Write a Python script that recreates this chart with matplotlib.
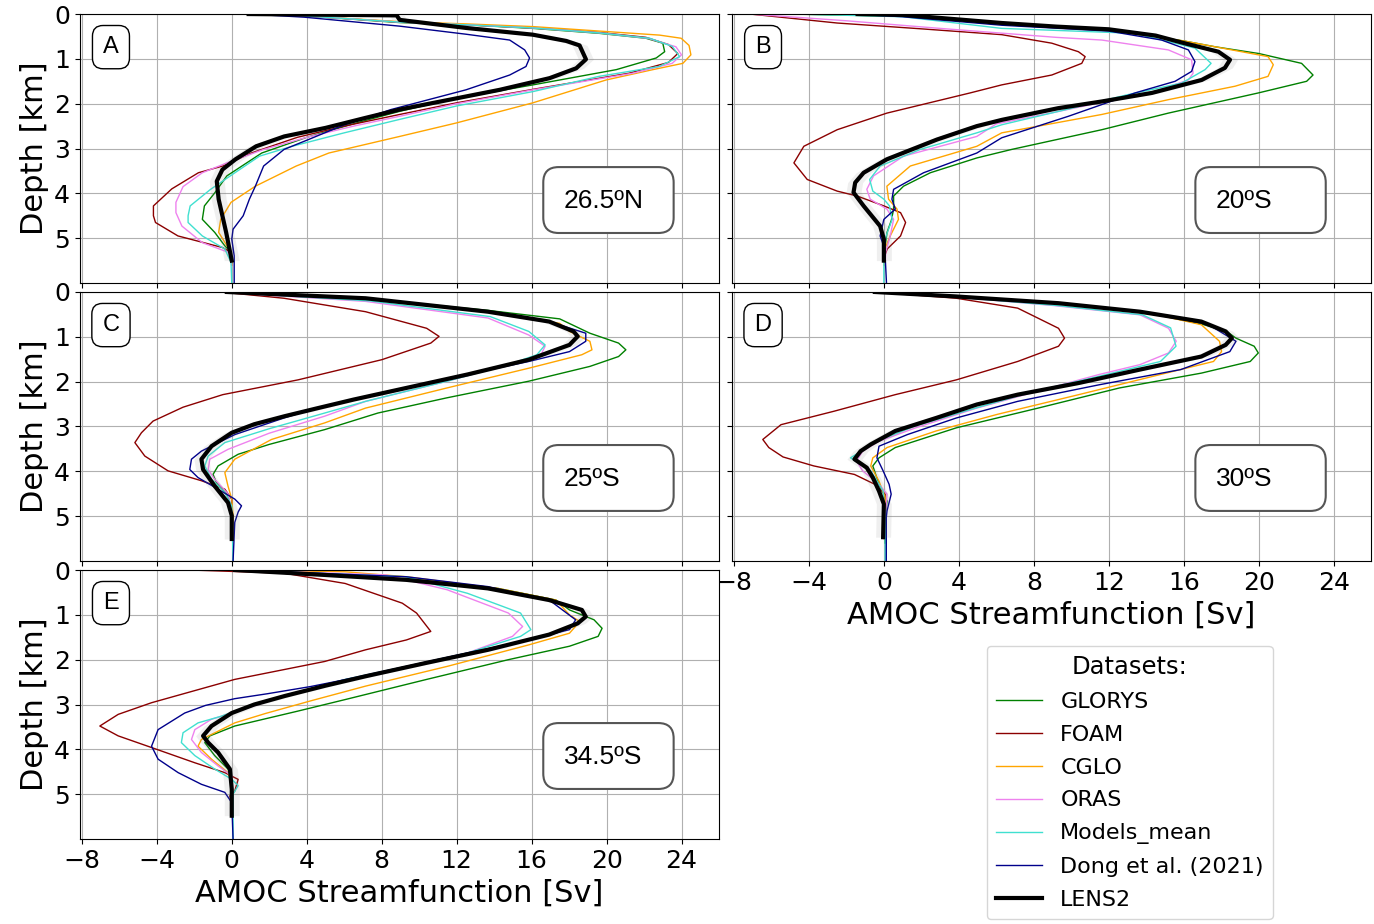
import matplotlib
matplotlib.use("Agg")
import matplotlib.pyplot as plt
import numpy as np
from matplotlib.patches import FancyBboxPatch

# AMOC streamfunction profiles: (Sv, depth km) pairs for each dataset
datasets = ["GLORYS", "FOAM", "CGLO", "ORAS", "Models_mean", "Dong et al. (2021)", "LENS2"]
colors = ["green", "darkred", "orange", "violet", "turquoise", "darkblue", "black"]
panel_letters = ["A", "B", "C", "D", "E"]
latitudes = ["26.5ºN", "20ºS", "25ºS", "30ºS", "34.5ºS"]
lens2_spread = 0.4  # half-width of the LENS2 ensemble envelope [Sv]

panel_a = {
    "GLORYS": [(1.0, 0), (3.5, 0.03), (8.96, 0.19), (12.5, 0.24), (16.07, 0.32), (19.6, 0.43), (22.1, 0.54),
               (23.0, 0.65), (23.1, 0.84), (22.65, 0.98), (20.52, 1.24), (16.07, 1.58), (11.63, 1.91),
               (8.96, 2.17), (6.9, 2.4), (4.0, 2.75), (1.6, 3.1), (-0.26, 3.61), (-0.91, 3.99), (-1.46, 4.28),
               (-1.57, 4.58), (-0.91, 4.87), (-0.37, 5.17), (-0.04, 5.32), (0.0, 5.6)],
    "FOAM": [(1.0, 0), (3.5, 0.03), (8.96, 0.18), (12.5, 0.24), (16.07, 0.31), (19.6, 0.41), (22.1, 0.52),
             (23.3, 0.68), (23.8, 0.88), (23.3, 1.08), (21.2, 1.32), (16.07, 1.68), (12.0, 1.98), (8.96, 2.24),
             (6.0, 2.5), (3.5, 2.75), (1.04, 3.1), (-0.48, 3.39), (-1.78, 3.54), (-3.2, 3.9), (-4.18, 4.28),
             (-4.18, 4.5), (-4.07, 4.65), (-2.87, 4.95), (-0.48, 5.21), (-0.04, 5.32), (0.0, 5.5)],
    "CGLO": [(1.0, 0), (3.5, 0.03), (8.96, 0.17), (12.52, 0.22), (16.07, 0.28), (19.98, 0.39), (22.83, 0.47),
             (23.98, 0.54), (24.4, 0.7), (24.5, 0.91), (24.07, 1.1), (22.47, 1.24), (19.98, 1.47), (16.07, 1.98),
             (11.98, 2.43), (8.96, 2.73), (5.18, 3.1), (3.44, 3.39), (1.26, 3.84), (-0.04, 4.2), (-0.59, 4.58),
             (-0.7, 4.87), (-0.15, 5.24), (-0.04, 5.32), (0.0, 5.6)],
    "ORAS": [(1.0, 0), (3.5, 0.03), (8.96, 0.18), (12.5, 0.24), (16.07, 0.31), (19.6, 0.42), (22.2, 0.54),
             (23.7, 0.73), (24.0, 0.91), (23.5, 1.1), (21.4, 1.32), (16.07, 1.69), (12.0, 2.0), (8.96, 2.28),
             (6.5, 2.5), (4.0, 2.75), (1.7, 3.02), (-0.26, 3.32), (-1.57, 3.54), (-2.6, 3.85), (-2.98, 4.2),
             (-2.98, 4.43), (-2.66, 4.73), (-1.57, 5.1), (-0.15, 5.32), (0.0, 5.6)],
    "Models_mean": [(1.0, 0), (3.5, 0.03), (8.96, 0.18), (12.5, 0.24), (16.07, 0.31), (19.6, 0.42), (22.3, 0.54),
                    (23.5, 0.72), (23.9, 0.95), (22.8, 1.17), (19.6, 1.39), (16.07, 1.73), (12.0, 2.05),
                    (8.96, 2.35), (6.0, 2.65), (3.22, 2.95), (1.48, 3.17), (0.17, 3.54), (-1.13, 3.91),
                    (-2.22, 4.28), (-2.33, 4.5), (-2.33, 4.65), (-1.57, 4.95), (-0.37, 5.24), (-0.04, 5.54),
                    (0.0, 6.0)],
    "Dong et al. (2021)": [(0.94, 0), (3.87, 0.07), (8.96, 0.27), (12.5, 0.45), (14.83, 0.58), (15.63, 0.8),
                           (15.89, 0.98), (15.7, 1.17), (14.83, 1.36), (12.5, 1.69), (8.5, 2.13), (5.83, 2.5),
                           (4.09, 2.8), (2.79, 3.02), (1.7, 3.39), (1.26, 3.84), (0.94, 4.13), (0.61, 4.5),
                           (0.07, 4.8), (0.0, 5.02), (0.13, 5.39), (0.13, 6.0)],
    "LENS2": [(0.9, 0), (8.8, 0.03), (8.96, 0.13), (12.5, 0.31), (16.06, 0.46), (17.85, 0.6), (18.56, 0.7),
              (18.9, 1.01), (18.38, 1.21), (16.96, 1.43), (14.3, 1.69), (11.63, 1.91), (8.96, 2.13), (7.1, 2.32),
              (5.0, 2.54), (2.8, 2.73), (1.3, 2.95), (0.2, 3.24), (-0.5, 3.47), (-0.8, 3.73), (-0.7, 4.13),
              (-0.5, 4.5), (-0.3, 4.87), (0.0, 5.5)],
}

panel_b = {
    "GLORYS": [(-5.0, 0), (1.0, 0.05), (6.3, 0.2), (12.0, 0.36), (16.0, 0.6), (17.67, 0.73), (20.0, 0.88),
               (22.29, 1.1), (22.9, 1.36), (22.56, 1.5), (19.98, 1.76), (15.18, 2.21), (11.63, 2.58),
               (6.82, 3.02), (4.96, 3.21), (2.48, 3.54), (1.05, 3.84), (0.52, 4.06), (0.52, 4.35), (0.4, 4.6),
               (0.17, 4.87), (0.05, 5.24), (0.05, 5.6)],
    "FOAM": [(-7.13, 0), (-2.5, 0.2), (2.0, 0.33), (6.29, 0.46), (8.96, 0.65), (10.38, 0.84), (10.74, 0.95),
             (10.56, 1.1), (8.96, 1.36), (6.29, 1.58), (4.6, 1.76), (0.16, 2.21), (-2.49, 2.58), (-4.27, 2.95),
             (-4.8, 3.32), (-4.09, 3.69), (-2.49, 3.95), (-1.42, 4.06), (0.0, 4.28), (0.89, 4.43), (1.16, 4.65),
             (0.89, 4.95), (0.18, 5.24), (0.05, 5.39)],
    "CGLO": [(-3.4, 0), (1.0, 0.05), (6.3, 0.2), (12.0, 0.36), (16.0, 0.6), (17.67, 0.73), (20.5, 0.95),
             (20.78, 1.13), (20.5, 1.39), (18.74, 1.61), (15.18, 1.91), (11.63, 2.24), (6.29, 2.65), (4.96, 2.95),
             (1.41, 3.39), (0.16, 3.84), (0.25, 4.13), (0.7, 4.35), (0.78, 4.58), (0.34, 4.95), (0.05, 5.24),
             (0.0, 5.6)],
    "ORAS": [(-7.13, 0), (-2.0, 0.15), (3.0, 0.32), (9.2, 0.52), (11.63, 0.58), (15.18, 0.8), (16.42, 1.02),
             (16.5, 1.32), (16.25, 1.47), (14.5, 1.72), (11.63, 1.97), (9.0, 2.2), (6.0, 2.45), (4.96, 2.73),
             (1.05, 3.17), (-0.55, 3.61), (-0.91, 3.91), (-0.73, 4.13), (0.16, 4.35), (0.52, 4.58), (0.34, 4.95),
             (0.1, 5.3), (0.07, 5.6)],
    "Models_mean": [(-4.6, 0), (1.0, 0.06), (6.29, 0.32), (13.4, 0.43), (16.6, 0.76), (17.46, 1.1), (17.14, 1.24),
                    (15.89, 1.54), (13.0, 1.8), (9.23, 2.18), (6.29, 2.47), (4.96, 2.65), (1.94, 3.02),
                    (-0.2, 3.39), (-0.76, 3.69), (-0.59, 3.95), (0.0, 4.13), (0.3, 4.28), (0.44, 4.58),
                    (0.12, 4.95), (0.0, 5.24), (0.0, 6.0)],
    "Dong et al. (2021)": [(-1.8, 0), (1.0, 0.06), (6.3, 0.25), (12.0, 0.38), (14.82, 0.58), (16.25, 0.8),
                           (16.6, 1.06), (16.42, 1.28), (15.54, 1.5), (13.4, 1.76), (9.85, 2.28), (6.29, 2.76),
                           (4.96, 3.1), (2.12, 3.54), (0.52, 3.91), (0.43, 4.13), (0.61, 4.35), (0.0, 4.58),
                           (-0.2, 4.95), (0.05, 5.24), (0.14, 6.0)],
    "LENS2": [(-1.4, 0), (1.05, 0.02), (6.3, 0.2), (9.2, 0.28), (12.0, 0.34), (14.5, 0.48), (16.03, 0.65),
              (17.85, 0.84), (18.47, 1.02), (18.2, 1.2), (16.96, 1.47), (14.3, 1.76), (11.63, 1.95), (9.3, 2.1),
              (6.3, 2.36), (4.96, 2.5), (2.83, 2.8), (0.16, 3.24), (-1.08, 3.54), (-1.53, 3.76), (-1.62, 3.98),
              (-1.08, 4.28), (-0.2, 4.73), (0.0, 5.02), (0.0, 5.5)],
}

panel_c = {
    "GLORYS": [(-0.3, 0), (7.0, 0.14), (13.67, 0.41), (17.5, 0.6), (19.11, 0.92), (20.64, 1.14), (21.03, 1.29),
               (20.64, 1.44), (19.11, 1.66), (15.85, 1.99), (11.49, 2.36), (7.8, 2.7), (4.96, 3.07), (2.0, 3.4),
               (0.34, 3.62), (-0.73, 3.88), (-1.0, 4.07), (-0.82, 4.25), (-0.2, 4.55), (0.0, 4.92), (0.0, 5.5)],
    "FOAM": [(-0.6, 0), (2.79, 0.14), (7.14, 0.44), (10.4, 0.81), (11.06, 0.99), (10.62, 1.14), (8.01, 1.51),
             (3.54, 1.96), (-0.48, 2.29), (-2.6, 2.57), (-4.2, 2.88), (-4.82, 3.14), (-5.17, 3.36),
             (-4.64, 3.66), (-3.4, 3.99), (-1.62, 4.21), (-0.37, 4.4), (0.0, 4.62), (0.0, 5.3)],
    "CGLO": [(-0.3, 0), (7.2, 0.14), (13.8, 0.44), (17.5, 0.7), (18.02, 0.88), (19.11, 1.1), (19.22, 1.29),
             (18.68, 1.4), (15.85, 1.7), (11.49, 2.14), (7.14, 2.59), (4.96, 2.92), (2.12, 3.29), (0.16, 3.73),
             (-0.37, 4.03), (-0.2, 4.33), (0.0, 4.62), (0.07, 5.0), (0.0, 5.5)],
    "ORAS": [(-0.59, 0), (7.14, 0.21), (13.67, 0.58), (15.85, 0.96), (16.72, 1.21), (16.5, 1.4), (14.76, 1.62),
             (11.49, 1.99), (7.14, 2.44), (4.96, 2.77), (2.0, 3.15), (-0.2, 3.51), (-1.17, 3.73), (-1.26, 3.96),
             (-0.91, 4.18), (-0.2, 4.5), (0.0, 4.88), (0.0, 5.5)],
    "Models_mean": [(-0.5, 0), (7.4, 0.2), (13.8, 0.55), (15.85, 0.88), (16.72, 1.18), (16.28, 1.4),
                    (14.76, 1.62), (11.49, 1.99), (7.14, 2.44), (4.96, 2.7), (2.0, 3.05), (-0.37, 3.36),
                    (-1.26, 3.66), (-1.44, 3.88), (-1.08, 4.18), (-0.37, 4.47), (0.0, 4.77), (0.07, 6.0)],
    "Dong et al. (2021)": [(-0.3, 0), (7.14, 0.14), (13.67, 0.44), (16.94, 0.66), (18.89, 0.92), (18.89, 1.1),
                           (18.02, 1.33), (15.85, 1.55), (12.58, 1.84), (9.32, 2.14), (6.3, 2.42), (4.3, 2.62),
                           (2.79, 2.81), (0.17, 3.18), (-1.0, 3.42), (-1.62, 3.55), (-2.15, 3.73), (-2.24, 3.96),
                           (-1.8, 4.14), (-0.73, 4.4), (0.16, 4.62), (0.52, 4.77), (0.34, 4.91), (0.16, 5.14),
                           (0.07, 6.0)],
    "LENS2": [(-0.26, 0), (7.14, 0.14), (13.67, 0.44), (16.94, 0.66), (18.24, 0.88), (18.46, 0.99),
              (18.02, 1.18), (15.85, 1.51), (12.58, 1.84), (9.32, 2.14), (6.5, 2.4), (4.5, 2.6), (2.83, 2.77),
              (1.2, 2.95), (0.0, 3.14), (-1.08, 3.44), (-1.62, 3.73), (-1.53, 3.96), (-0.91, 4.33), (-0.2, 4.7),
              (0.0, 4.99), (0.0, 5.51)],
}

panel_d = {
    "GLORYS": [(-0.5, 0), (4.0, 0.1), (10.0, 0.27), (14.5, 0.5), (17.0, 0.72), (18.3, 0.88), (18.79, 1.03),
               (19.76, 1.21), (19.98, 1.36), (19.55, 1.55), (16.94, 1.81), (12.58, 2.14), (8.23, 2.59),
               (3.87, 3.03), (0.61, 3.47), (-0.26, 3.7), (-0.59, 3.88), (-0.26, 4.29), (0.17, 4.66),
               (0.07, 5.03), (0.07, 5.6)],
    "FOAM": [(-0.48, 0), (3.87, 0.14), (7.14, 0.36), (9.32, 0.81), (9.64, 1.03), (9.32, 1.21), (7.14, 1.55),
             (3.87, 1.96), (0.61, 2.29), (-2.66, 2.66), (-5.49, 2.96), (-6.46, 3.29), (-6.14, 3.47),
             (-5.38, 3.68), (-3.74, 3.88), (-1.57, 4.07), (-0.48, 4.29), (0.07, 4.51), (0.0, 5.03), (0.0, 5.2)],
    "CGLO": [(-0.5, 0), (4.0, 0.1), (10.0, 0.27), (14.5, 0.5), (16.94, 0.73), (17.91, 1.1), (18.02, 1.33),
             (17.59, 1.55), (14.76, 1.84), (10.4, 2.29), (6.05, 2.73), (2.79, 3.1), (0.17, 3.47), (-0.59, 3.7),
             (-0.7, 3.88), (-0.26, 4.22), (0.07, 4.58), (0.07, 5.03), (0.0, 5.5)],
    "ORAS": [(-0.5, 0), (3.5, 0.1), (9.0, 0.3), (13.67, 0.51), (15.19, 0.81), (15.6, 1.1), (15.19, 1.36),
             (13.67, 1.62), (11.49, 1.84), (8.23, 2.21), (4.96, 2.59), (1.7, 3.03), (-0.26, 3.33), (-1.13, 3.55),
             (-1.46, 3.77), (-1.13, 3.99), (-0.26, 4.29), (0.17, 4.51), (0.07, 5.03), (0.0, 5.5)],
    "Models_mean": [(-0.5, 0), (3.5, 0.1), (9.2, 0.3), (13.8, 0.51), (15.3, 0.8), (15.59, 1.21), (14.76, 1.55),
                    (11.49, 1.88), (8.0, 2.22), (4.8, 2.6), (1.6, 3.0), (-0.5, 3.35), (-1.4, 3.6), (-1.78, 3.7),
                    (-0.7, 3.99), (-0.04, 4.44), (0.07, 5.03), (0.07, 6.0)],
    "Dong et al. (2021)": [(-0.5, 0), (4.0, 0.1), (10.0, 0.27), (14.5, 0.5), (17.3, 0.72), (18.79, 1.1),
                           (18.46, 1.33), (15.85, 1.73), (11.49, 2.07), (7.14, 2.44), (3.87, 2.81), (1.26, 3.18),
                           (-0.26, 3.44), (-0.37, 3.7), (-0.04, 3.99), (0.28, 4.29), (0.39, 4.51), (0.17, 4.88),
                           (0.13, 5.03), (0.13, 6.0)],
    "LENS2": [(-0.48, 0), (3.87, 0.1), (9.32, 0.25), (13.67, 0.44), (16.94, 0.66), (18.24, 0.88),
              (18.57, 1.03), (18.24, 1.18), (16.94, 1.44), (13.67, 1.73), (10.4, 2.03), (7.14, 2.29),
              (4.96, 2.51), (2.79, 2.81), (0.61, 3.1), (-0.7, 3.4), (-1.24, 3.55), (-1.57, 3.73), (-0.91, 3.92),
              (-0.59, 4.14), (-0.26, 4.44), (0.0, 4.73), (-0.04, 5.47)],
}

panel_e = {
    "GLORYS": [(0.17, 0), (5.4, 0.11), (10.0, 0.22), (14.2, 0.41), (17.3, 0.67), (18.02, 0.89), (19.33, 1.11),
               (19.76, 1.3), (19.55, 1.48), (18.02, 1.7), (14.76, 2.0), (10.4, 2.44), (6.05, 2.89), (3.5, 3.15),
               (0.16, 3.48), (-1.17, 3.7), (-1.44, 3.85), (-0.91, 4.14), (-0.2, 4.44), (0.0, 4.7), (0.0, 5.5)],
    "FOAM": [(-2.2, 0), (2.79, 0.07), (6.05, 0.3), (9.1, 0.74), (9.86, 0.96), (10.62, 1.37), (9.32, 1.56),
             (7.14, 1.78), (4.96, 2.04), (0.16, 2.44), (-4.28, 2.96), (-6.06, 3.22), (-7.04, 3.48), (-6.06, 3.7),
             (-4.28, 3.96), (-1.97, 4.3), (-0.37, 4.52), (0.34, 4.67), (0.16, 4.93), (-0.1, 5.04), (0.0, 5.2)],
    "CGLO": [(0.17, 0), (6.05, 0.04), (9.32, 0.15), (14.2, 0.41), (17.3, 0.67), (18.02, 1.0), (18.57, 1.15),
             (18.02, 1.41), (15.85, 1.67), (11.49, 2.15), (7.14, 2.59), (4.2, 2.92), (1.8, 3.2), (0.16, 3.41),
             (-1.62, 3.78), (-1.8, 3.93), (-1.08, 4.22), (-0.2, 4.52), (0.0, 4.8), (0.0, 5.5)],
    "ORAS": [(0.17, 0), (8.23, 0.11), (11.49, 0.44), (14.76, 0.96), (15.52, 1.26), (14.98, 1.48), (12.58, 1.85),
             (9.32, 2.15), (6.05, 2.44), (2.79, 2.81), (0.61, 3.11), (-1.08, 3.33), (-1.97, 3.56), (-2.15, 3.78),
             (-1.62, 4.07), (-0.73, 4.37), (0.0, 4.59), (0.0, 5.5)],
    "Models_mean": [(0.17, 0), (9.32, 0.15), (12.58, 0.52), (15.41, 0.96), (15.96, 1.33), (15.41, 1.48),
                    (12.58, 1.85), (9.32, 2.15), (6.05, 2.44), (2.79, 2.81), (0.5, 3.1), (-0.55, 3.26),
                    (-1.8, 3.41), (-2.6, 3.63), (-2.69, 3.85), (-1.97, 4.14), (-0.91, 4.44), (0.0, 4.67),
                    (0.34, 4.81), (0.07, 5.0), (0.07, 6.0)],
    "Dong et al. (2021)": [(0.17, 0), (9.32, 0.15), (13.67, 0.37), (16.94, 0.67), (18.35, 1.11), (18.02, 1.33),
                           (15.85, 1.56), (12.58, 1.85), (9.32, 2.15), (6.6, 2.4), (4.2, 2.6), (1.9, 2.76),
                           (0.16, 2.87), (-1.4, 3.02), (-2.51, 3.19), (-3.93, 3.56), (-4.28, 3.93), (-3.93, 4.22),
                           (-2.86, 4.52), (-1.62, 4.78), (-0.37, 4.96), (0.0, 5.19), (0.07, 6.0)],
    "LENS2": [(0.17, 0), (4.96, 0.11), (9.32, 0.22), (13.67, 0.41), (16.94, 0.67), (18.68, 0.89), (18.89, 1.04),
              (18.46, 1.19), (16.94, 1.44), (13.67, 1.78), (10.4, 2.07), (7.14, 2.37), (5.0, 2.58), (2.83, 2.81),
              (1.2, 3.0), (0.0, 3.19), (-1.08, 3.48), (-1.53, 3.7), (-1.26, 3.85), (-0.73, 4.07), (-0.1, 4.44),
              (0.0, 4.89), (0.0, 5.48)],
}

panels = [panel_a, panel_b, panel_c, panel_d, panel_e]

fig = plt.figure(figsize=(13.74, 9.24), dpi=100)

# panel grid: 3 rows x 2 columns, last slot holds the legend
col_x = [0.0582, 0.5328]
row_y = [0.6937, 0.3929, 0.0920]
ax_w, ax_h = 0.4651, 0.2911
slots = [(0, 0), (0, 1), (1, 0), (1, 1), (2, 0)]

handles = []
for i, (data, letter, lat) in enumerate(zip(panels, panel_letters, latitudes)):
    row, col = slots[i]
    ax = fig.add_axes([col_x[col], row_y[row], ax_w, ax_h])

    for name, color in zip(datasets, colors):
        sv, depth = np.array(data[name]).T
        if name == "LENS2":
            ax.fill_betweenx(depth, sv - lens2_spread, sv + lens2_spread,
                             color="0.5", alpha=0.12, lw=0, zorder=3)
            line, = ax.plot(sv, depth, color=color, lw=3, label=name, zorder=4,
                            solid_joinstyle="round")
        else:
            line, = ax.plot(sv, depth, color=color, lw=1, label=name, zorder=2)
        if i == 0:
            handles.append(line)

    ax.set_xlim(-8.1, 26)
    ax.set_ylim(6, 0)
    ax.set_xticks(range(-8, 25, 4))
    ax.set_yticks(range(0, 6))
    ax.grid(True, color="#b0b0b0", lw=0.8)
    ax.set_axisbelow(True)
    ax.tick_params(labelsize=18)

    if col == 0:
        ax.set_ylabel("Depth [km]", fontsize=22)
    else:
        ax.tick_params(labelleft=False)
    if letter in ("D", "E"):
        ax.set_xlabel("AMOC Streamfunction [Sv]", fontsize=22)
    else:
        ax.tick_params(labelbottom=False)

    # panel letter
    ax.text(0.0485, 0.877, letter, transform=ax.transAxes, ha="center", va="center",
            fontsize=17, family="Liberation Sans", zorder=6,
            bbox=dict(boxstyle="round,pad=0.45", fc="white", ec="black", lw=1))

    # latitude box
    box = FancyBboxPatch((0.725, 0.186), 0.204, 0.245, transform=ax.transAxes,
                         boxstyle="round,pad=0,rounding_size=0.024", mutation_aspect=2.37,
                         fc="white", ec="#555555", lw=1.5, zorder=5)
    ax.add_patch(box)
    ax.text(0.757, 0.305, lat, transform=ax.transAxes, ha="left", va="center",
            fontsize=19, family="Liberation Sans", zorder=6)

fig.legend(handles, datasets, title="Datasets:", loc="upper left",
           bbox_to_anchor=(0.7183, 0.3009), borderaxespad=0,
           fontsize=16, title_fontsize=17.5, labelspacing=0.58, handlelength=2.1)

fig.savefig("out.png", dpi=100)
